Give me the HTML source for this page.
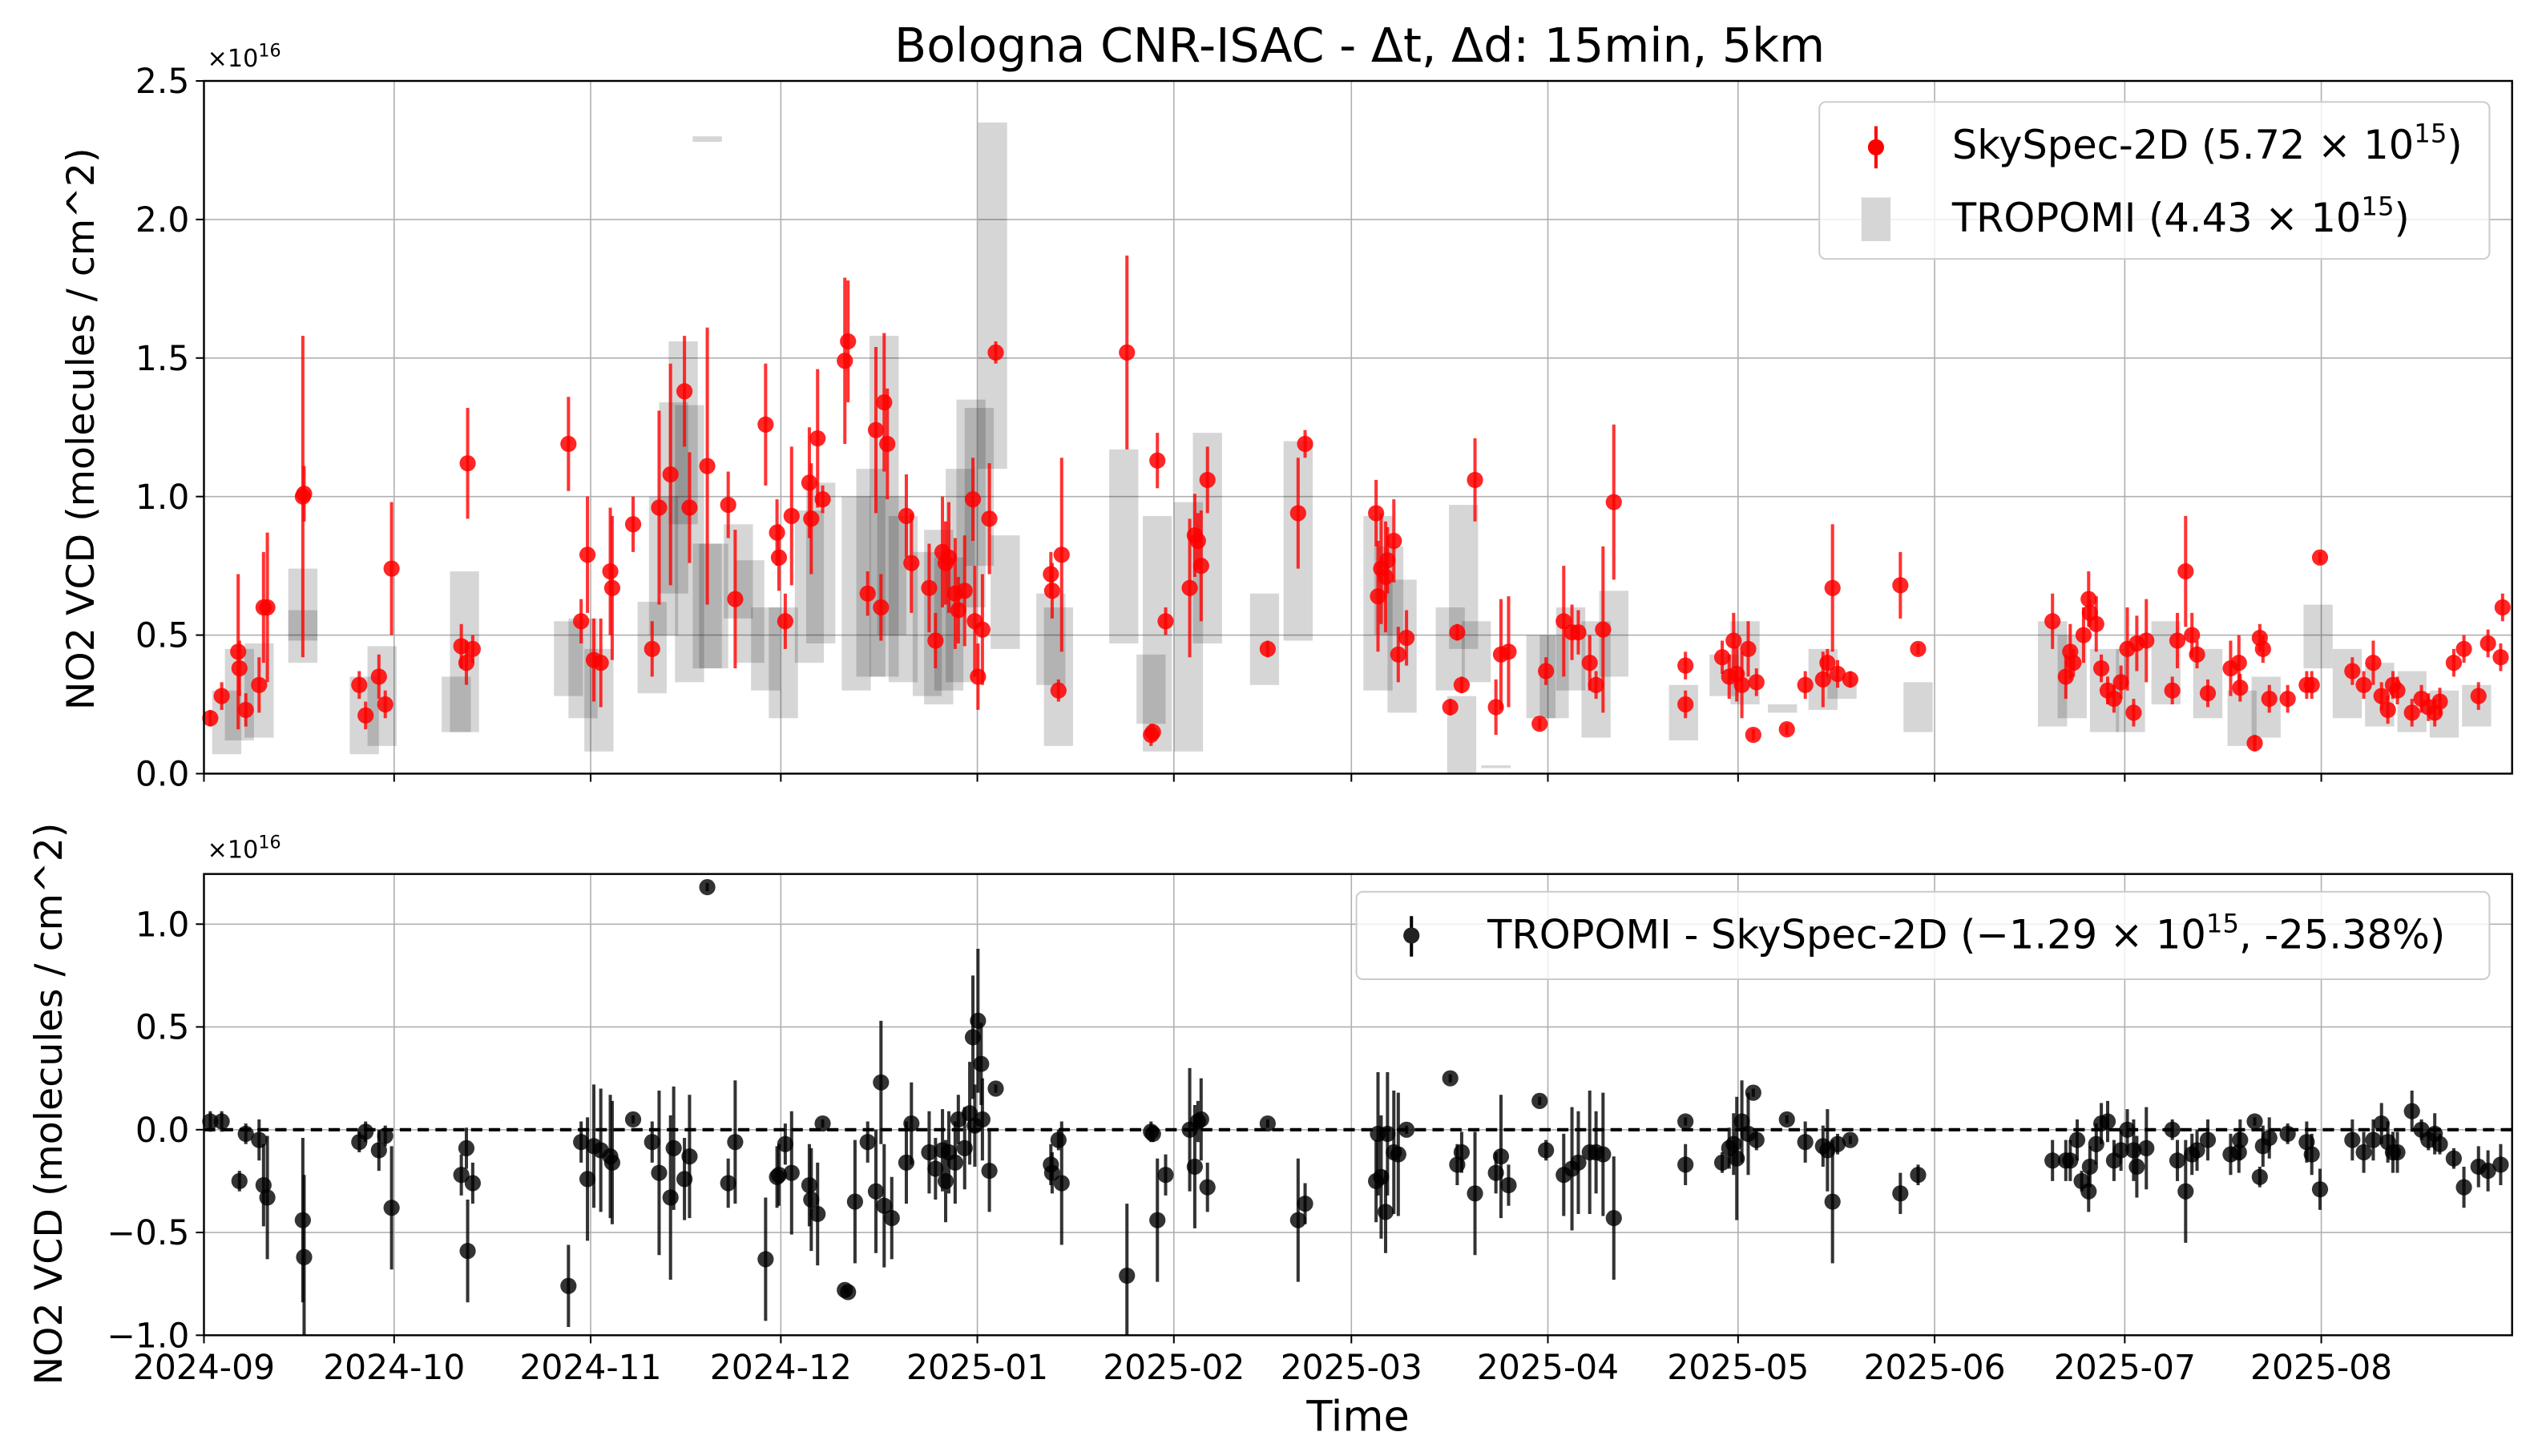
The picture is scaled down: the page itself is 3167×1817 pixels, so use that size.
<!DOCTYPE html>
<html><head><meta charset="utf-8"><style>
html,body{margin:0;padding:0;background:#fff;}
svg{display:block;font-family:"DejaVu Sans","Liberation Sans",sans-serif;}
</style></head><body>
<svg id="chart" width="3167" height="1817" viewBox="0 0 1568 899.6" xmlns="http://www.w3.org/2000/svg">
<rect width="1568" height="900" fill="#fff"/>
<g id="topPanel"></g>
<g id="botPanel"></g>
<text x="840" y="38" font-size="29" text-anchor="middle">Bologna CNR-ISAC - Δt, Δd: 15min, 5km</text>
<text x="839" y="884" font-size="26" text-anchor="middle">Time</text>
<text transform="translate(58,265) rotate(-90)" font-size="23.5" text-anchor="middle">NO2 VCD (molecules / cm^2)</text>
<text transform="translate(38,682) rotate(-90)" font-size="23.5" text-anchor="middle">NO2 VCD (molecules / cm^2)</text>
<text x="128" y="41" font-size="15">×10<tspan font-size="11" dy="-6">16</tspan></text>
<text x="128" y="530" font-size="15">×10<tspan font-size="11" dy="-6">16</tspan></text>
</svg>
<script>
// ---- data (days since 2024-09-01, values in 1e16 molec/cm^2) ----
const monthTicks = [0,30,61,91,122,153,181,212,242,273,303,334];
const monthLabels = ["2024-09","2024-10","2024-11","2024-12","2025-01","2025-02","2025-03","2025-04","2025-05","2025-06","2025-07","2025-08"];
const topTicks = [0,0.5,1.0,1.5,2.0,2.5];
const topTickLabels = ["0.0","0.5","1.0","1.5","2.0","2.5"];
const botTicks = [-1.0,-0.5,0.0,0.5,1.0];
const botTickLabels = ["\u22121.0","\u22120.5","0.0","0.5","1.0"];

const redDays = [1.0,2.8,5.4,5.6,6.6,8.7,9.4,10.0,15.6,15.8,24.5,25.5,27.6,28.6,29.6,40.6,41.4,41.6,42.4,57.5,59.5,60.5,61.5,62.6,64.1,64.4,67.7,70.7,71.8,73.6,75.8,76.6,79.4,82.7,83.8,88.6,90.4,90.7,91.7,92.7,95.5,95.8,96.8,97.6,101.1,101.6,104.7,106.0,106.8,107.3,107.8,110.8,111.6,114.4,115.4,116.5,117.0,117.5,118.5,119.0,120.0,121.3,121.6,122.1,122.8,123.9,124.9,133.6,133.8,134.8,135.3,145.6,149.4,149.7,150.4,151.7,155.5,156.3,156.8,157.3,158.3,167.8,172.6,173.7,184.9,185.2,185.7,186.4,186.7,187.7,188.4,189.7,196.6,197.7,198.4,200.5,203.8,204.6,205.8,210.7,211.7,214.5,215.8,216.8,218.6,219.6,220.7,222.4,233.7,233.7,239.5,240.6,241.3,241.8,242.6,243.6,244.4,244.9,249.7,252.6,255.4,256.1,256.9,257.7,259.7,267.6,270.4,291.6,293.7,294.4,294.9,296.5,297.3,297.5,298.5,299.3,300.3,301.3,302.4,303.4,304.4,304.9,306.4,310.5,311.3,312.6,313.6,314.4,316.1,319.7,321.0,321.2,323.5,324.3,324.8,325.8,328.7,331.7,332.5,333.8,338.9,340.7,342.2,343.5,344.5,345.3,346.0,348.3,349.8,350.9,351.9,352.7,354.9,356.5,358.8,360.3,362.3,362.6];
const redValues = [0.20,0.28,0.44,0.38,0.23,0.32,0.60,0.60,1.00,1.01,0.32,0.21,0.35,0.25,0.74,0.46,0.40,1.12,0.45,1.19,0.55,0.79,0.41,0.40,0.73,0.67,0.90,0.45,0.96,1.08,1.38,0.96,1.11,0.97,0.63,1.26,0.87,0.78,0.55,0.93,1.05,0.92,1.21,0.99,1.49,1.56,0.65,1.24,0.60,1.34,1.19,0.93,0.76,0.67,0.48,0.80,0.76,0.78,0.65,0.59,0.66,0.99,0.55,0.35,0.52,0.92,1.52,0.72,0.66,0.30,0.79,1.52,0.14,0.15,1.13,0.55,0.67,0.86,0.84,0.75,1.06,0.45,0.94,1.19,0.94,0.64,0.74,0.71,0.77,0.84,0.43,0.49,0.24,0.51,0.32,1.06,0.24,0.43,0.44,0.18,0.37,0.55,0.51,0.51,0.40,0.32,0.52,0.98,0.25,0.39,0.42,0.35,0.48,0.36,0.32,0.45,0.14,0.33,0.16,0.32,0.34,0.40,0.67,0.36,0.34,0.68,0.45,0.55,0.35,0.44,0.40,0.50,0.63,0.58,0.54,0.38,0.30,0.27,0.33,0.45,0.22,0.47,0.48,0.30,0.48,0.73,0.50,0.43,0.29,0.38,0.40,0.31,0.11,0.49,0.45,0.27,0.27,0.32,0.32,0.78,0.37,0.32,0.40,0.28,0.23,0.32,0.30,0.22,0.27,0.24,0.22,0.26,0.40,0.45,0.28,0.47,0.42,0.60];
const redErrors = [0.03,0.05,0.28,0.10,0.06,0.10,0.20,0.27,0.58,0.10,0.05,0.05,0.08,0.05,0.24,0.08,0.08,0.20,0.05,0.17,0.08,0.21,0.15,0.16,0.23,0.26,0.10,0.10,0.35,0.40,0.20,0.20,0.50,0.12,0.25,0.22,0.12,0.12,0.10,0.25,0.20,0.20,0.25,0.05,0.30,0.22,0.08,0.30,0.12,0.25,0.20,0.15,0.18,0.16,0.10,0.20,0.15,0.20,0.20,0.12,0.20,0.15,0.20,0.12,0.20,0.20,0.04,0.08,0.10,0.04,0.35,0.35,0.04,0.03,0.10,0.05,0.25,0.15,0.10,0.20,0.12,0.03,0.20,0.05,0.12,0.20,0.20,0.20,0.12,0.15,0.10,0.10,0.03,0.03,0.03,0.15,0.10,0.20,0.20,0.02,0.05,0.20,0.10,0.08,0.10,0.05,0.30,0.28,0.05,0.05,0.06,0.08,0.10,0.10,0.12,0.10,0.02,0.05,0.02,0.05,0.10,0.05,0.23,0.05,0.03,0.12,0.02,0.10,0.08,0.10,0.05,0.10,0.10,0.05,0.10,0.05,0.05,0.05,0.06,0.15,0.05,0.10,0.15,0.05,0.10,0.20,0.08,0.05,0.05,0.10,0.10,0.05,0.03,0.05,0.05,0.05,0.05,0.05,0.05,0.02,0.05,0.05,0.08,0.05,0.05,0.05,0.05,0.05,0.05,0.05,0.05,0.05,0.05,0.05,0.05,0.05,0.05,0.05];

const tropDays = [3.6,5.6,8.7,15.6,15.6,25.3,28.1,39.8,41.1,57.5,59.8,62.3,70.7,72.5,75.6,74.1,76.6,79.4,80.4,84.3,86.1,88.6,91.4,95.5,97.3,102.9,105.2,107.3,108.5,110.3,114.1,115.9,117.5,119.3,121.0,122.3,124.4,126.4,133.6,134.8,145.1,149.4,150.4,155.3,158.3,167.3,172.6,185.2,186.9,189.0,196.6,198.4,198.7,200.7,203.8,210.9,213.0,215.6,219.6,222.4,233.4,239.8,243.1,249.0,255.4,258.4,270.4,291.6,294.7,299.8,303.9,309.5,316.1,321.5,325.3,333.5,338.1,343.2,348.3,353.4,358.5,79.4];
const tropLow = [0.07,0.12,0.13,0.40,0.48,0.07,0.10,0.15,0.15,0.28,0.20,0.08,0.29,0.50,0.90,0.65,0.33,0.38,0.38,0.56,0.40,0.30,0.20,0.40,0.47,0.30,0.35,0.35,0.50,0.33,0.28,0.25,0.30,0.33,0.60,0.75,1.10,0.45,0.32,0.10,0.47,0.18,0.08,0.08,0.47,0.32,0.48,0.30,0.50,0.22,0.30,0.00,0.45,0.33,0.02,0.20,0.20,0.30,0.13,0.35,0.12,0.28,0.25,0.22,0.23,0.27,0.15,0.17,0.20,0.15,0.15,0.25,0.20,0.10,0.13,0.38,0.20,0.17,0.15,0.13,0.17,2.28];
const tropHigh = [0.30,0.45,0.47,0.74,0.59,0.35,0.46,0.35,0.73,0.55,0.56,0.45,0.62,1.00,1.56,1.34,1.33,0.83,0.83,0.90,0.77,0.60,0.60,0.95,1.05,1.00,1.10,1.58,1.00,0.93,0.80,0.88,0.78,1.10,1.35,1.32,2.35,0.86,0.65,0.60,1.17,0.43,0.93,0.98,1.23,0.65,1.20,0.93,0.82,0.70,0.60,0.28,0.97,0.55,0.03,0.50,0.50,0.60,0.55,0.66,0.32,0.43,0.55,0.25,0.45,0.35,0.33,0.55,0.50,0.45,0.45,0.55,0.45,0.30,0.35,0.61,0.45,0.40,0.37,0.30,0.32,2.30];

const diffDays = [1.0,2.8,5.6,6.6,8.7,9.4,10.0,15.6,15.8,24.5,25.5,27.6,28.6,29.6,40.6,41.4,41.6,42.4,57.5,59.5,60.5,61.5,62.6,64.1,64.4,67.7,70.7,71.8,73.6,74.1,75.8,76.6,79.4,82.7,83.8,88.6,90.4,90.7,91.7,92.7,95.5,95.8,96.8,97.6,101.1,101.6,102.7,104.7,106.0,106.8,107.3,108.5,110.8,111.6,114.4,115.4,116.5,117.0,117.5,118.5,119.0,120.0,120.8,121.3,121.6,122.1,122.6,122.8,123.9,124.9,133.6,133.8,134.8,135.3,145.6,149.4,149.7,150.4,151.7,155.5,156.3,156.8,157.3,158.3,167.8,172.6,173.7,184.9,185.2,185.7,186.4,186.7,187.7,188.4,189.7,196.6,197.7,198.4,200.5,203.8,204.6,205.8,210.7,211.7,214.5,215.8,216.8,218.6,219.6,220.7,222.4,233.7,233.7,239.5,240.6,241.3,241.8,242.6,243.6,244.4,244.9,249.7,252.6,255.4,256.1,256.9,257.7,259.7,267.6,270.4,291.6,293.7,294.4,295.5,296.2,297.3,297.5,298.5,299.3,300.3,301.3,302.4,303.4,304.4,304.9,306.4,310.5,311.3,312.6,313.6,314.4,316.1,319.7,321.0,321.2,323.5,324.3,324.8,325.8,328.7,331.7,332.5,333.8,338.9,340.7,342.2,343.5,344.5,345.3,346.0,348.3,349.8,350.9,351.9,352.7,354.9,356.5,358.8,360.3,362.3];
const diffValues = [0.04,0.04,-0.25,-0.02,-0.05,-0.27,-0.33,-0.44,-0.62,-0.06,-0.01,-0.10,-0.03,-0.38,-0.22,-0.09,-0.59,-0.26,-0.76,-0.06,-0.24,-0.08,-0.10,-0.13,-0.16,0.05,-0.06,-0.21,-0.33,-0.09,-0.24,-0.13,1.18,-0.26,-0.06,-0.63,-0.23,-0.22,-0.07,-0.21,-0.27,-0.34,-0.41,0.03,-0.78,-0.79,-0.35,-0.06,-0.30,0.23,-0.37,-0.43,-0.16,0.03,-0.11,-0.19,-0.10,-0.25,-0.11,-0.16,0.05,-0.09,0.08,0.45,0.02,0.53,0.32,0.05,-0.20,0.20,-0.17,-0.21,-0.05,-0.26,-0.71,-0.01,-0.02,-0.44,-0.22,0.00,-0.18,0.04,0.05,-0.28,0.03,-0.44,-0.36,-0.25,-0.02,-0.23,-0.40,-0.02,-0.11,-0.12,0.00,0.25,-0.17,-0.11,-0.31,-0.21,-0.13,-0.27,0.14,-0.10,-0.22,-0.19,-0.16,-0.11,-0.11,-0.12,-0.43,0.04,-0.17,-0.16,-0.09,-0.07,-0.14,0.04,-0.02,0.18,-0.05,0.05,-0.06,-0.08,-0.10,-0.35,-0.07,-0.05,-0.31,-0.22,-0.15,-0.15,-0.15,-0.05,-0.25,-0.30,-0.18,-0.07,0.03,0.04,-0.15,-0.10,0.00,-0.10,-0.18,-0.09,0.00,-0.15,-0.30,-0.12,-0.10,-0.05,-0.12,-0.11,-0.05,0.04,-0.23,-0.08,-0.04,-0.02,-0.06,-0.12,-0.29,-0.05,-0.11,-0.05,0.03,-0.06,-0.11,-0.11,0.09,0.00,-0.05,-0.02,-0.07,-0.14,-0.28,-0.18,-0.20,-0.17];
const diffErrors = [0.05,0.05,0.05,0.05,0.10,0.20,0.30,0.40,0.40,0.05,0.05,0.10,0.05,0.30,0.10,0.10,0.25,0.10,0.20,0.10,0.30,0.30,0.30,0.30,0.30,0.02,0.10,0.40,0.40,0.30,0.20,0.30,0.02,0.12,0.30,0.30,0.15,0.15,0.10,0.30,0.20,0.25,0.25,0.02,0.02,0.02,0.30,0.10,0.30,0.30,0.30,0.20,0.20,0.20,0.20,0.15,0.20,0.20,0.20,0.20,0.12,0.20,0.25,0.30,0.20,0.35,0.20,0.20,0.20,0.02,0.10,0.10,0.05,0.30,0.35,0.05,0.04,0.30,0.10,0.30,0.30,0.10,0.20,0.12,0.02,0.30,0.10,0.20,0.30,0.30,0.20,0.30,0.30,0.30,0.02,0.02,0.10,0.10,0.30,0.10,0.30,0.10,0.02,0.05,0.20,0.30,0.25,0.30,0.20,0.30,0.30,0.02,0.10,0.05,0.10,0.15,0.30,0.20,0.20,0.02,0.05,0.02,0.10,0.10,0.20,0.30,0.05,0.02,0.10,0.05,0.10,0.10,0.10,0.10,0.05,0.10,0.10,0.10,0.10,0.10,0.10,0.10,0.10,0.15,0.15,0.20,0.05,0.10,0.25,0.10,0.10,0.10,0.10,0.10,0.10,0.02,0.05,0.10,0.10,0.05,0.10,0.10,0.10,0.10,0.10,0.10,0.10,0.10,0.10,0.10,0.10,0.05,0.05,0.10,0.05,0.05,0.10,0.10,0.10,0.10,0.05];

// ---- layout ----
const NS = "http://www.w3.org/2000/svg";
const L = 126, R = 1552, DMIN = 0, DMAX = 364.1;
const T1 = 50, B1 = 478, Y1MIN = 0, Y1MAX = 2.5;
const T2 = 540, B2 = 825, Y2MIN = -1.0, Y2MAX = 1.244;
const xS = d => L + (d - DMIN) / (DMAX - DMIN) * (R - L);
const y1S = v => B1 - (v - Y1MIN) / (Y1MAX - Y1MIN) * (B1 - T1);
const y2S = v => B2 - (v - Y2MIN) / (Y2MAX - Y2MIN) * (B2 - T2);

function mk(tag, attrs, parent) {
  const e = document.createElementNS(NS, tag);
  for (const k in attrs) e.setAttribute(k, attrs[k]);
  parent.appendChild(e);
  return e;
}
const topG = document.getElementById('topPanel');
const botG = document.getElementById('botPanel');

function axesFrame(g, T, B, yS, ticks, labels, name) {
  monthTicks.forEach((d, i) => {
    const gl = mk('line', {x1: xS(d), x2: xS(d), y1: T, y2: B, stroke: '#b0b0b0', 'stroke-width': 0.8}, g);
    
    
    const tk = mk('line', {x1: xS(d), x2: xS(d), y1: B, y2: B + 5, stroke: '#000', 'stroke-width': 1}, g);
    
    
  });
  ticks.forEach((v, i) => {
    const gl = mk('line', {x1: L, x2: R, y1: yS(v), y2: yS(v), stroke: '#b0b0b0', 'stroke-width': 0.8}, g);
    
    
    const tk = mk('line', {x1: L - 5, x2: L, y1: yS(v), y2: yS(v), stroke: '#000', 'stroke-width': 1}, g);
    
    
    const t = mk('text', {x: L - 9, y: yS(v) + 7.5, 'font-size': 21, 'text-anchor': 'end'}, g);
    t.textContent = labels[i];
    
    
  });
}
axesFrame(topG, T1, B1, y1S, topTicks, topTickLabels, 'top');
axesFrame(botG, T2, B2, y2S, botTicks, botTickLabels, 'bottom');

monthTicks.forEach((d, i) => {
  const t = mk('text', {x: xS(d), y: 852, 'font-size': 21, 'text-anchor': 'middle'}, botG);
  t.textContent = monthLabels[i];
  
  
});

const BW = 18;
tropDays.forEach((d, i) => {
  const r = mk('rect', {x: xS(d) - BW / 2, y: y1S(tropHigh[i]), width: BW, height: Math.max(1.5, y1S(tropLow[i]) - y1S(tropHigh[i])), fill: '#000', 'fill-opacity': 0.16}, topG);
  
  
});

redDays.forEach((d, i) => {
  const x = xS(d);
  const ln = mk('line', {x1: x, x2: x, y1: y1S(redValues[i] - redErrors[i]), y2: y1S(redValues[i] + redErrors[i]), stroke: '#ff0000', 'stroke-opacity': 0.8, 'stroke-width': 2}, topG);
  
  
  const c = mk('circle', {cx: x, cy: y1S(redValues[i]), r: 5, fill: '#ff0000', 'fill-opacity': 0.85}, topG);
  
  
});

const zl = mk('line', {x1: L, x2: R, y1: y2S(0), y2: y2S(0), stroke: '#000', 'stroke-width': 2, 'stroke-dasharray': '7,4'}, botG);


diffDays.forEach((d, i) => {
  const x = xS(d);
  const lo = Math.max(Y2MIN, diffValues[i] - diffErrors[i]);
  const ln = mk('line', {x1: x, x2: x, y1: y2S(lo), y2: y2S(diffValues[i] + diffErrors[i]), stroke: '#000', 'stroke-opacity': 0.8, 'stroke-width': 2}, botG);
  
  
  const c = mk('circle', {cx: x, cy: y2S(diffValues[i]), r: 5, fill: '#000', 'fill-opacity': 0.8}, botG);
  
  
});

const f1 = mk('rect', {x: L, y: T1, width: R - L, height: B1 - T1, fill: 'none', stroke: '#000', 'stroke-width': 1.2}, topG);


const f2 = mk('rect', {x: L, y: T2, width: R - L, height: B2 - T2, fill: 'none', stroke: '#000', 'stroke-width': 1.2}, botG);



const lg1 = mk('g', {}, topG);


mk('rect', {x: 1124, y: 63, width: 414, height: 97, rx: 4, fill: '#fff', 'fill-opacity': 0.8, stroke: '#cccccc', 'stroke-width': 1}, lg1);
const e1 = mk('g', {}, lg1);


mk('line', {x1: 1159, x2: 1159, y1: 78, y2: 104, stroke: '#ff0000', 'stroke-width': 2}, e1);
mk('circle', {cx: 1159, cy: 91, r: 5, fill: '#ff0000'}, e1);
const t1 = mk('text', {x: 1206, y: 98, 'font-size': 24.5}, e1);
t1.innerHTML = 'SkySpec-2D (5.72 × 10<tspan font-size="16" dy="-10">15</tspan><tspan dy="10">)</tspan>';
const e2 = mk('g', {}, lg1);


mk('rect', {x: 1150, y: 122, width: 18, height: 27, fill: '#d6d6d6'}, e2);
const t2 = mk('text', {x: 1206, y: 143, 'font-size': 24.5}, e2);
t2.innerHTML = 'TROPOMI (4.43 × 10<tspan font-size="16" dy="-10">15</tspan><tspan dy="10">)</tspan>';

const lg2 = mk('g', {}, botG);


mk('rect', {x: 838, y: 551, width: 700, height: 54, rx: 4, fill: '#fff', 'fill-opacity': 0.8, stroke: '#cccccc', 'stroke-width': 1}, lg2);
mk('line', {x1: 872, x2: 872, y1: 566, y2: 591, stroke: '#000', 'stroke-width': 2}, lg2);
mk('circle', {cx: 872, cy: 578, r: 5, fill: '#222'}, lg2);
const t3 = mk('text', {x: 919, y: 586, 'font-size': 24.5}, lg2);
t3.innerHTML = 'TROPOMI - SkySpec-2D (\u22121.29 × 10<tspan font-size="16" dy="-10">15</tspan><tspan dy="10">, -25.38%)</tspan>';
</script>
</body></html>
